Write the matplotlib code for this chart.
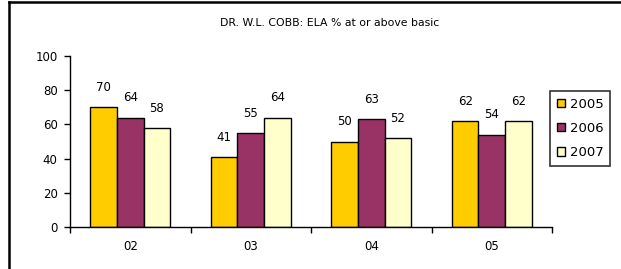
import matplotlib
matplotlib.use("Agg")
import matplotlib.pyplot as plt
from matplotlib.lines import Line2D
import numpy as np

plt.rcParams['font.family'] = ['DejaVu Sans']

categories = ["02", "03", "04", "05"]
years = ["2005", "2006", "2007"]
v2005 = [70, 41, 50, 62]
v2006 = [64, 55, 63, 54]
v2007 = [58, 64, 52, 62]
colors = ["#FFCC00", "#993366", "#FFFFCC"]
title = "DR. W.L. COBB: ELA % at or above basic"

W, H = 621, 269
fig = plt.figure(figsize=(W / 100, H / 100), dpi=100)
ax = fig.add_axes([70 / W, 1 - 227 / H, (552 - 70) / W, (227 - 56) / H])

x = np.arange(len(categories))
bw = 0.22
series = [v2005, v2006, v2007]
for i, (vals, c, lab) in enumerate(zip(series, colors, years)):
    bars = ax.bar(x + (i - 1) * bw, vals, bw, color=c, edgecolor="black",
                  linewidth=1.0, label=lab, zorder=2)
    for b, v in zip(bars, vals):
        ax.annotate(str(v), (b.get_x() + b.get_width() / 2, v),
                    xytext=(0, 9.5), textcoords="offset points",
                    ha="center", va="bottom", fontsize=8.5)

ax.set_xlim(-0.5, len(categories) - 0.5)
ax.set_ylim(0, 100)
ax.set_yticks([0, 20, 40, 60, 80, 100])
ax.set_xticks(x)
ax.set_xticklabels(categories)
ax.set_xticks(np.arange(len(categories) + 1) - 0.5, minor=True)
ax.tick_params(axis="x", which="major", length=0, pad=9, labelsize=8.5)
ax.tick_params(axis="x", which="minor", length=4, width=1, direction="out")
ax.tick_params(axis="y", length=4, width=1, direction="out", pad=5, labelsize=8.5)
for s in ["top", "right"]:
    ax.spines[s].set_visible(False)
for s in ["left", "bottom"]:
    ax.spines[s].set_linewidth(1.0)

fig.text(330 / W, 1 - 23 / H, title, ha="center", va="center", fontsize=7.8)

leg = fig.legend(loc="upper left", bbox_to_anchor=(550 / W, 1 - 91 / H),
                 bbox_transform=fig.transFigure, fontsize=9.5, frameon=True,
                 fancybox=False, edgecolor="black", handlelength=0.6,
                 handleheight=0.6, handletextpad=0.4, borderpad=0.5,
                 labelspacing=0.85, borderaxespad=0)
leg.get_frame().set_linewidth(1.2)
for p in leg.get_patches():
    p.set_linewidth(1.0)

fig.add_artist(Line2D([8.5 / W, 8.5 / W], [0, 1 - 1.5 / H], transform=fig.transFigure,
                      color="black", linewidth=1.8))
fig.add_artist(Line2D([8.5 / W, 1], [1 - 1.5 / H, 1 - 1.5 / H], transform=fig.transFigure,
                      color="black", linewidth=1.8))

fig.savefig("out.png", dpi=100, facecolor="white")
